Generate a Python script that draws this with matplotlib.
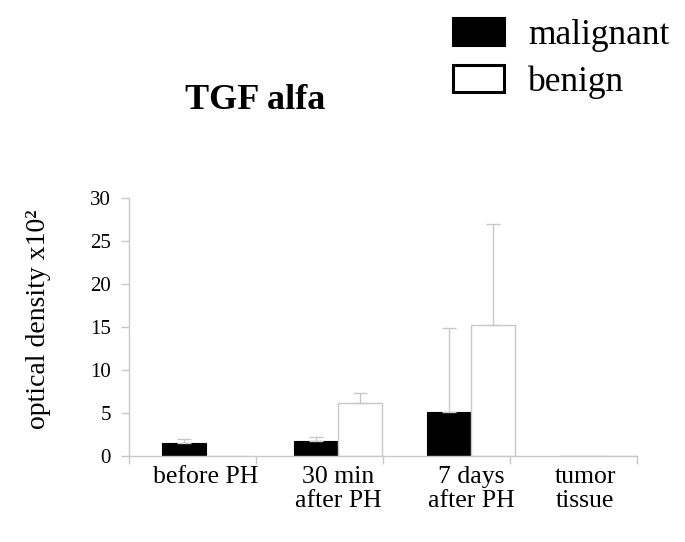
import numpy as np
import matplotlib
matplotlib.use("Agg")
import matplotlib.pyplot as plt
from matplotlib.patches import Patch

plt.rcParams['font.family'] = ['Liberation Serif', 'DejaVu Serif']

# data
categories = ["before PH", "30 min\nafter PH", "7 days\nafter PH", "tumor\ntissue"]
malignant = [1.5, 1.75, 5.1, 0]
malignant_err = [0.5, 0.45, 9.8, 0]
benign = [0, 6.15, 15.3, 0]
benign_err = [0, 1.15, 11.7, 0]

grey = "#c8c8c8"
x = np.arange(len(categories))
w = 0.33

fig = plt.figure(figsize=(6.85, 5.42), dpi=100)
ax = fig.add_axes([0.188, 0.158, 0.742, 0.477])

ax.bar(x - w / 2, malignant, w, color="black", edgecolor="black", linewidth=0.8)
ax.bar(x + w / 2, benign, w, color="white", edgecolor=grey, linewidth=1.0)

# only upper error bars, skip the empty ones
for xs, vals, errs in [(x - w / 2, malignant, malignant_err), (x + w / 2, benign, benign_err)]:
    for xi, v, e in zip(xs, vals, errs):
        if e > 0:
            ax.errorbar(xi, v, yerr=[[0], [e]], color=grey, elinewidth=1.0,
                        capsize=5, capthick=1.0, fmt="none")

ax.set_xlim(-0.578, 3.25)
ax.set_ylim(0, 30)
ax.set_yticks([0, 5, 10, 15, 20, 25, 30])
# last label sits a bit left of its slot in the original
ax.set_xticks([0, 1, 2, 2.86])
ax.set_xticklabels(categories, fontsize=18.5, linespacing=1.1)
ax.set_xticks(np.linspace(-0.578, 3.25, 5), minor=True)
ax.tick_params(axis="x", which="major", length=0, pad=7)
ax.tick_params(axis="x", which="minor", length=6, color=grey, width=1.0)
ax.tick_params(axis="y", length=6, color=grey, width=1.0, labelsize=15, pad=7)

for s in ["top", "right"]:
    ax.spines[s].set_visible(False)
for s in ["left", "bottom"]:
    ax.spines[s].set_color(grey)
    ax.spines[s].set_linewidth(1.0)

ax.set_ylabel("optical density x10²", fontsize=20)
ax.yaxis.set_label_coords(-0.153, 0.53)

fig.text(0.372, 0.815, "TGF alfa", fontsize=26, fontweight="bold", ha="center", va="center")

handles = [Patch(facecolor="black", edgecolor="black", linewidth=2.2),
           Patch(facecolor="white", edgecolor="black", linewidth=2.2)]
fig.legend(handles, ["malignant", "benign"], loc="upper left",
           bbox_to_anchor=(0.641, 0.993), frameon=False, fontsize=25.5,
           handlelength=1.42, handleheight=0.78, handletextpad=0.7,
           labelspacing=0.38, borderaxespad=0.0)

fig.savefig("out.png", dpi=100, facecolor="white")
